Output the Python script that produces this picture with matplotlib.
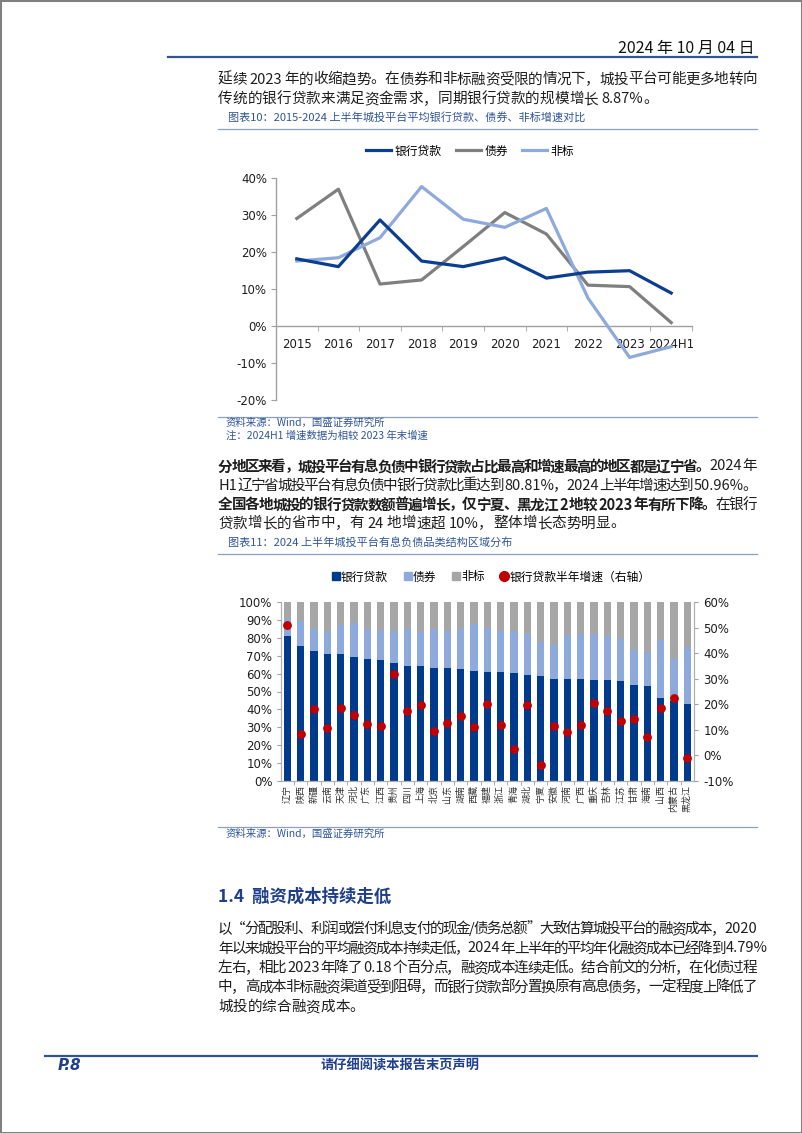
import re
import numpy as np
import matplotlib
matplotlib.use('Agg')
import matplotlib.pyplot as plt
from matplotlib.lines import Line2D
from matplotlib.patches import Rectangle

W, H = 802, 1133
FAM = ['Noto Sans CJK SC', 'DejaVu Sans']
plt.rcParams['font.family'] = FAM

# ---------------- data ----------------
years = ['2015', '2016', '2017', '2018', '2019', '2020', '2021', '2022', '2023', '2024H1']
loan_growth = [18.1, 16.0, 28.6, 17.5, 16.0, 18.4, 12.9, 14.5, 14.9, 8.87]
bond_growth = [29.0, 36.9, 11.3, 12.4, 21.4, 30.6, 24.8, 11.0, 10.6, 0.9]
nonstd_growth = [17.5, 18.4, 23.8, 37.6, 28.8, 26.6, 31.7, 7.5, -8.5, -5.6]

regions = ['辽宁', '陕西', '新疆', '云南', '天津', '河北', '广东', '江西', '贵州', '四川',
           '上海', '北京', '山东', '湖南', '西藏', '福建', '浙江', '青海', '湖北', '宁夏',
           '安徽', '河南', '广西', '重庆', '吉林', '江苏', '甘肃', '海南', '山西', '内蒙古', '黑龙江']
loan_share = [80.81, 75.5, 72.5, 71.0, 70.8, 69.0, 68.0, 67.5, 66.0, 64.0,
              64.0, 63.0, 63.0, 62.8, 61.5, 61.1, 60.8, 60.5, 59.3, 58.9,
              57.0, 57.0, 57.0, 56.7, 56.7, 56.0, 53.4, 53.2, 46.3, 44.6, 43.0]
loan_bond_share = [90.5, 89.3, 85.0, 83.7, 87.0, 88.0, 85.0, 84.5, 84.0, 85.0,
                   83.0, 85.0, 84.0, 85.0, 87.5, 85.2, 83.7, 83.7, 81.9, 77.8,
                   75.9, 81.5, 81.9, 81.9, 81.1, 79.6, 73.1, 72.0, 79.0, 68.0, 75.0]
loan_halfyear_growth = [50.96, 8.5, 18.1, 10.7, 18.6, 15.8, 12.4, 11.7, 31.8, 17.2,
                        19.9, 9.6, 12.5, 15.5, 11.2, 20.3, 12.0, 2.5, 19.9, -3.9,
                        11.6, 9.0, 12.0, 20.5, 17.5, 13.6, 14.1, 7.4, 18.6, 22.4, -1.2]

# ---------------- figure ----------------
fig = plt.figure(figsize=(W / 100, H / 100), dpi=100)
renderer = fig.canvas.get_renderer()

BLUE = '#2F5597'
DARKBLUE = '#1F3F8A'
TXT = '#1E1E1E'
RULE = '#8EA0BF'


def fy(y):
    return 1 - y / H


def rect(x0, y0, x1, y1):
    return [x0 / W, 1 - y1 / H, (x1 - x0) / W, (y1 - y0) / H]


def hline(y, x0, x1, color, lw):
    fig.add_artist(Line2D([x0 / W, x1 / W], [fy(y), fy(y)], color=color, lw=lw,
                          transform=fig.transFigure))


def tokens_of(s):
    return re.findall(r'[A-Za-z0-9.%/\-]+| +|.', s)


def place_line(y, segs, x0=218, x1=757, justify=True, size=10.5, color=TXT):
    items = []
    for text, bold in segs:
        for tok in tokens_of(text):
            items.append((tok, bold))
    objs, widths = [], []
    for tok, bold in items:
        if tok.strip() == '':
            objs.append(None)
            widths.append(size * 100 / 72 * 0.22 * len(tok))
            continue
        t = fig.text(0, fy(y), tok, fontsize=size, fontweight='bold' if bold else 'normal',
                     color=color, va='center', ha='left')
        widths.append(t.get_window_extent(renderer).width)
        objs.append(t)
    total = sum(widths)
    n = len(items)
    gap = (x1 - x0 - total) / (n - 1) if (justify and n > 1) else 0
    x = x0
    for t, w in zip(objs, widths):
        if t is not None:
            t.set_x(x / W)
        x += w + gap


# page border
fig.patches.append(Rectangle((0, 0), 1, 1, transform=fig.transFigure, fill=False,
                             edgecolor='#808080', lw=2.2))

# header
fig.text(755 / W, fy(48), '2024 年 10 月 04 日', fontsize=11.5, ha='right', va='center',
         color='#111111')
hline(57, 168, 757, '#2F5597', 1.6)

# paragraph 1
place_line(79.5, [('延续 2023 年的收缩趋势。在债券和非标融资受限的情况下，城投平台可能更多地转向', False)])
place_line(99, [('传统的银行贷款来满足资金需求，同期银行贷款的规模增长 8.87%。', False)], justify=False)

# caption 10
fig.text(228 / W, fy(117.5), '图表10：2015-2024 上半年城投平台平均银行贷款、债券、非标增速对比',
         fontsize=8, color=BLUE, va='center', ha='left')
hline(129, 218, 757, RULE, 0.9)

# ---------------- chart 1 ----------------
ax1 = fig.add_axes(rect(276, 177.7, 692, 400))
x = np.arange(len(years))
l1, = ax1.plot(x, loan_growth, color='#0B3D91', lw=2.3, zorder=4)
l2, = ax1.plot(x, bond_growth, color='#7F7F7F', lw=2.3, zorder=3)
l3, = ax1.plot(x, nonstd_growth, color='#8EA9DB', lw=2.3, zorder=3)
ax1.set_xlim(-0.5, len(years) - 0.5)
ax1.set_ylim(-20, 40)
for s in ['top', 'right']:
    ax1.spines[s].set_visible(False)
ax1.spines['bottom'].set_position(('data', 0))
for s in ['bottom', 'left']:
    ax1.spines[s].set_color('#A0A0A0')
    ax1.spines[s].set_linewidth(1.0)
ax1.set_xticks(x)
ax1.set_xticklabels(years)
ax1.set_xticks(np.arange(0.5, len(years), 1), minor=True)
ax1.tick_params(axis='x', which='major', length=0, pad=9, labelsize=8.5, labelcolor='#1E1E1E')
ax1.tick_params(axis='x', which='minor', length=3.5, direction='out', color='#A0A0A0')
ax1.set_yticks(np.arange(-20, 41, 10))
ax1.set_yticklabels([f'{v}%' for v in range(-20, 41, 10)])
ax1.tick_params(axis='y', length=3.5, color='#A0A0A0', labelsize=8.5, labelcolor='#1E1E1E', pad=3)
for lab in ax1.get_xticklabels() + ax1.get_yticklabels():
    lab.set_family('DejaVu Sans')
ax1.patch.set_alpha(0)
fig.legend([l1, l2, l3], ['银行贷款', '债券', '非标'], loc='center',
           bbox_to_anchor=(470 / W, fy(151)), ncol=3, frameon=False, fontsize=8.5,
           handlelength=2.1, handletextpad=0.3, columnspacing=1.2)

hline(417, 218, 757, RULE, 0.9)
fig.text(226 / W, fy(423), '资料来源：Wind，国盛证券研究所', fontsize=7.5, color=BLUE, va='center')
fig.text(226 / W, fy(436), '注：2024H1 增速数据为相较 2023 年末增速', fontsize=7.5, color=BLUE, va='center')

# paragraph 2
place_line(466.5, [('分地区来看，城投平台有息负债中银行贷款占比最高和增速最高的地区都是辽宁省。', True),
                   ('2024 年', False)])
place_line(485.5, [('H1 辽宁省城投平台有息负债中银行贷款比重达到 80.81%，2024 上半年增速达到 50.96%。', False)])
place_line(504.5, [('全国各地城投的银行贷款数额普遍增长，仅宁夏、黑龙江 2 地较 2023 年有所下降。', True),
                   ('在银行', False)])
place_line(523.5, [('贷款增长的省市中，有 24 地增速超 10%，整体增长态势明显。', False)], justify=False)

fig.text(228 / W, fy(543), '图表11：2024 上半年城投平台有息负债品类结构区域分布',
         fontsize=8, color=BLUE, va='center', ha='left')
hline(554, 218, 757, RULE, 0.9)

# ---------------- chart 2 ----------------
ax2 = fig.add_axes(rect(280.7, 602, 693.9, 781))
xr = np.arange(len(regions))
loan_arr = np.array(loan_share)
lb_arr = np.array(loan_bond_share)
bw = 0.55
ax2.bar(xr, loan_arr, bw, color='#003A8C', zorder=2)
ax2.bar(xr, lb_arr - loan_arr, bw, bottom=loan_arr, color='#8EA9DB', zorder=2)
ax2.bar(xr, 100 - lb_arr, bw, bottom=lb_arr, color='#A6A6A6', zorder=2)
ax2.set_xlim(-0.5, len(regions) - 0.5)
ax2.set_ylim(0, 100)
ax2.set_yticks(np.arange(0, 101, 10))
ax2.set_yticklabels([f'{v}%' for v in range(0, 101, 10)])
ax2.set_xticks(xr)
ax2.set_xticklabels(regions, rotation=90, fontsize=6.5, color='#333333')
ax2.set_xticks(np.arange(0.5, len(regions) - 1, 1), minor=True)
ax2.tick_params(axis='x', which='major', length=0, pad=3)
ax2.tick_params(axis='x', which='minor', length=3, color='#A0A0A0')
ax2.tick_params(axis='y', length=3, color='#A0A0A0', labelsize=8.5, labelcolor='#1E1E1E', pad=3)
ax2.spines['top'].set_visible(False)
for s in ['bottom', 'left', 'right']:
    ax2.spines[s].set_color('#B0B0B0')
for lab in ax2.get_yticklabels():
    lab.set_family('DejaVu Sans')

ax3 = ax2.twinx()
ax3.scatter(xr, loan_halfyear_growth, s=40, color='#C00000', zorder=5, linewidths=0)
ax3.set_ylim(-10, 60)
ax3.set_yticks(np.arange(-10, 61, 10))
ax3.set_yticklabels([f'{v}%' for v in range(-10, 61, 10)])
ax3.tick_params(axis='y', length=3, color='#A0A0A0', labelsize=8.5, labelcolor='#1E1E1E', pad=4)
ax3.spines['top'].set_visible(False)
for s in ['bottom', 'left', 'right']:
    ax3.spines[s].set_color('#B0B0B0')
for lab in ax3.get_yticklabels():
    lab.set_family('DejaVu Sans')

h2 = [Line2D([], [], marker='s', ls='none', color='#003A8C', markersize=6),
      Line2D([], [], marker='s', ls='none', color='#8EA9DB', markersize=6),
      Line2D([], [], marker='s', ls='none', color='#A6A6A6', markersize=6),
      Line2D([], [], marker='o', ls='none', color='#C00000', markersize=7)]
fig.legend(h2, ['银行贷款', '债券', '非标', '银行贷款半年增速（右轴）'], loc='center',
           bbox_to_anchor=(491 / W, fy(577)), ncol=4, frameon=False, fontsize=8.5,
           handlelength=0.7, handletextpad=0.1, columnspacing=1.3)

hline(827, 218, 757, RULE, 0.9)
fig.text(226 / W, fy(834), '资料来源：Wind，国盛证券研究所', fontsize=7.5, color=BLUE, va='center')

# section heading
fig.text(218 / W, fy(897), '1.4  融资成本持续走低', fontsize=12.5, fontweight='bold',
         color=DARKBLUE, va='center', ha='left')

# paragraph 3
place_line(929, [('以“分配股利、利润或偿付利息支付的现金/债务总额”大致估算城投平台的融资成本，2020', False)])
place_line(948.5, [('年以来城投平台的平均融资成本持续走低，2024 年上半年的平均年化融资成本已经降到 4.79%', False)],
           x1=768)
place_line(968, [('左右，相比 2023 年降了 0.18 个百分点，融资成本连续走低。结合前文的分析，在化债过程', False)])
place_line(987.5, [('中，高成本非标融资渠道受到阻碍，而银行贷款部分置换原有高息债务，一定程度上降低了', False)])
place_line(1007, [('城投的综合融资成本。', False)], justify=False)

# footer
hline(1056, 45, 757, '#2F5597', 1.6)
fig.text(58 / W, fy(1066), 'P.8', fontsize=11, fontweight='bold', style='italic',
         color=DARKBLUE, va='center', ha='left', family='DejaVu Sans')
fig.text(400 / W, fy(1066), '请仔细阅读本报告末页声明', fontsize=9.5, fontweight='bold',
         color=DARKBLUE, va='center', ha='center')

fig.savefig('out.png', dpi=100)
